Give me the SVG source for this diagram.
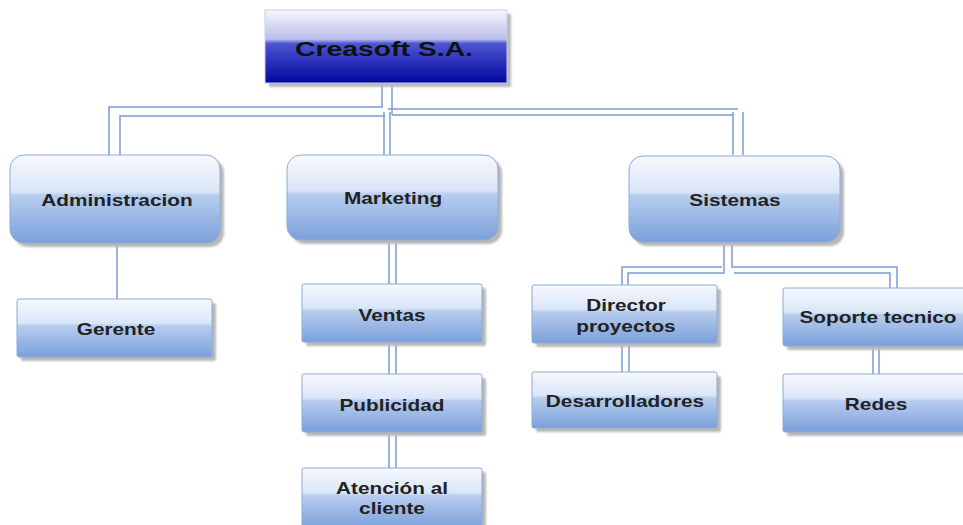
<svg xmlns="http://www.w3.org/2000/svg" width="963" height="525" viewBox="0 0 963 525">
<defs>
<linearGradient id="gb" x1="0" y1="0" x2="0" y2="1">
<stop offset="0" stop-color="#f7f9fe"/>
<stop offset="0.42" stop-color="#d9e5f6"/>
<stop offset="0.46" stop-color="#b7cdef"/>
<stop offset="1" stop-color="#7aa0da"/>
</linearGradient>
<linearGradient id="gt" x1="0" y1="0" x2="0" y2="1">
<stop offset="0" stop-color="#f6f7fd"/>
<stop offset="0.4" stop-color="#b9bdea"/>
<stop offset="0.46" stop-color="#4d55d2"/>
<stop offset="1" stop-color="#02069e"/>
</linearGradient>
<filter id="sh" x="-10%" y="-10%" width="130%" height="140%">
<feGaussianBlur stdDeviation="1.2"/>
</filter>
</defs>
<style>
.shadow{fill:#b8b8b8;filter:url(#sh)}
.box{fill:url(#gb);stroke:#8eaad8;stroke-width:1}
.top{fill:url(#gt);stroke:#c8cdf0;stroke-width:1}
.lbl{font-family:"Liberation Sans",Arial,sans-serif;font-weight:bold;font-size:16px;fill:#222;text-anchor:middle}
.ttl{font-family:"Liberation Sans",Arial,sans-serif;font-weight:bold;font-size:21px;fill:#111;text-anchor:middle}
.con path{fill:none;stroke:#7b9cd2;stroke-width:1.5}
</style>
<rect width="963" height="525" fill="#ffffff"/>
<g id="connectors" class="con">
<path d="M382,83 V107 H109 V155"/>
<path d="M120,155 V116 H385"/>
<path d="M392,83 V115"/>
<path d="M384,112 V155"/>
<path d="M390,112 V155"/>
<path d="M388,109 H738"/>
<path d="M392,115 H733"/>
<path d="M733,112 V155"/>
<path d="M743,112 V155"/>
<path d="M117,243 V299"/>
<path d="M389,240 V284 M396,240 V284"/>
<path d="M389,342 V374 M396,342 V374"/>
<path d="M389,432 V468 M396,432 V468"/>
<path d="M724,242 V273 H628 V285"/>
<path d="M732,242 V267 H897 V288"/>
<path d="M722,267 H622 V285"/>
<path d="M734,273 H890 V288"/>
<path d="M622,343 V372 M629,343 V372"/>
<path d="M873,346 V374 M879,346 V374"/>
</g>
<g id="creasoft">
<rect class="shadow" x="269" y="14" width="242" height="73"/>
<rect class="top" x="265" y="10" width="242" height="73"/>
<text class="ttl" transform="translate(384,56) scale(1.35,1)">Creasoft S.A.</text>
</g>
<g id="administracion">
<rect class="shadow" x="14" y="159" width="210" height="88" rx="14"/>
<rect class="box" x="10" y="155" width="210" height="88" rx="14"/>
<text class="lbl" transform="translate(117,206) scale(1.3,1)">Administracion</text>
</g>
<g id="marketing">
<rect class="shadow" x="291" y="159" width="211" height="85" rx="14"/>
<rect class="box" x="287" y="155" width="211" height="85" rx="14"/>
<text class="lbl" transform="translate(393,204) scale(1.3,1)">Marketing</text>
</g>
<g id="sistemas">
<rect class="shadow" x="633" y="160" width="211" height="86" rx="14"/>
<rect class="box" x="629" y="156" width="211" height="86" rx="14"/>
<text class="lbl" transform="translate(735,206) scale(1.3,1)">Sistemas</text>
</g>
<g id="gerente">
<rect class="shadow" x="21" y="303" width="195" height="58" rx="2"/>
<rect class="box" x="17" y="299" width="195" height="58" rx="2"/>
<text class="lbl" transform="translate(116,335) scale(1.3,1)">Gerente</text>
</g>
<g id="ventas">
<rect class="shadow" x="306" y="288" width="180" height="58" rx="2"/>
<rect class="box" x="302" y="284" width="180" height="58" rx="2"/>
<text class="lbl" transform="translate(392,321) scale(1.3,1)">Ventas</text>
</g>
<g id="publicidad">
<rect class="shadow" x="306" y="378" width="180" height="58" rx="2"/>
<rect class="box" x="302" y="374" width="180" height="58" rx="2"/>
<text class="lbl" transform="translate(392,411) scale(1.3,1)">Publicidad</text>
</g>
<g id="atencion">
<rect class="shadow" x="306" y="472" width="180" height="60" rx="2"/>
<rect class="box" x="302" y="468" width="180" height="60" rx="2"/>
<text class="lbl" transform="translate(392,494) scale(1.3,1)">Atención al</text>
<text class="lbl" transform="translate(392,514) scale(1.3,1)">cliente</text>
</g>
<g id="director">
<rect class="shadow" x="536" y="289" width="185" height="58" rx="2"/>
<rect class="box" x="532" y="285" width="185" height="58" rx="2"/>
<text class="lbl" transform="translate(626,311) scale(1.3,1)">Director</text>
<text class="lbl" transform="translate(626,332) scale(1.3,1)">proyectos</text>
</g>
<g id="desarrolladores">
<rect class="shadow" x="536" y="376" width="185" height="56" rx="2"/>
<rect class="box" x="532" y="372" width="185" height="56" rx="2"/>
<text class="lbl" transform="translate(625,407) scale(1.3,1)">Desarrolladores</text>
</g>
<g id="soporte">
<rect class="shadow" x="787" y="292" width="185" height="58" rx="2"/>
<rect class="box" x="783" y="288" width="185" height="58" rx="2"/>
<text class="lbl" transform="translate(878,323) scale(1.3,1)">Soporte tecnico</text>
</g>
<g id="redes">
<rect class="shadow" x="787" y="378" width="185" height="58" rx="2"/>
<rect class="box" x="783" y="374" width="185" height="58" rx="2"/>
<text class="lbl" transform="translate(876,410) scale(1.3,1)">Redes</text>
</g>
</svg>
